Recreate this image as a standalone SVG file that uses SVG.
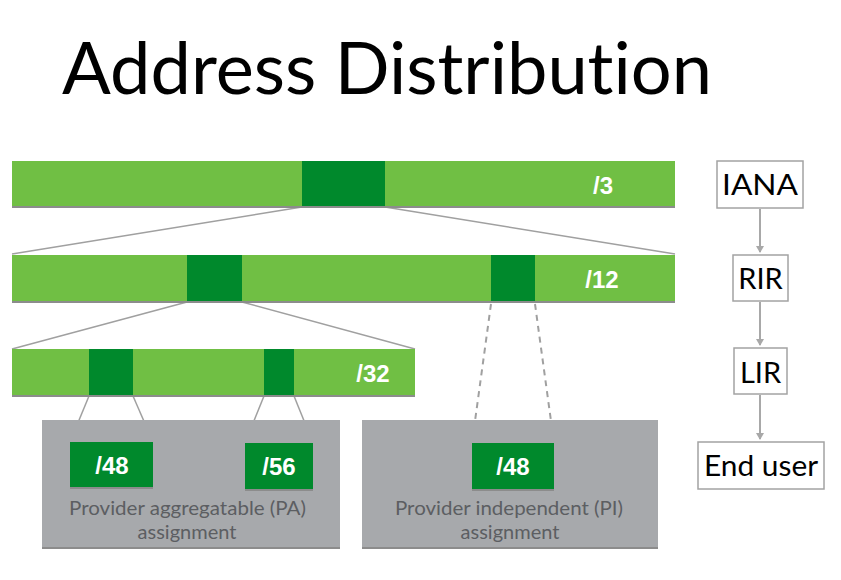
<svg xmlns="http://www.w3.org/2000/svg" width="841" height="580" viewBox="0 0 841 580">
<defs>
<style>
text{font-variant-ligatures:none}
.title{font-family:Lato,"Open Sans","DejaVu Sans",sans-serif;font-size:71px;fill:#000}
.bar{fill:#70bf44}
.blk{fill:#00892c}
.shadow{stroke:#8c8c8c;stroke-width:2}
.lbl{font-family:"Liberation Sans",Arial,sans-serif;font-weight:bold;font-size:24px;fill:#fff;text-anchor:middle}
.gbox{fill:#a7a9ac}
.gtxt{font-family:Lato,"Open Sans","DejaVu Sans",sans-serif;font-size:20px;fill:#5c5e62;text-anchor:middle}
.conn{stroke:#a0a0a0;stroke-width:1.5;fill:none}
.dash{stroke:#a0a0a0;stroke-width:2;fill:none;stroke-dasharray:6,5}
.rbox{fill:#fff;stroke:#a3a3a3;stroke-width:1.5}
.rtxt{font-family:Lato,"Open Sans","DejaVu Sans",sans-serif;font-size:29px;fill:#000;text-anchor:middle}
.arr{stroke:#a8a8a8;stroke-width:2;fill:none}
</style>
<marker id="ah" markerWidth="8" markerHeight="8" refX="6" refY="4" orient="auto" markerUnits="userSpaceOnUse">
<path d="M0,0 L7,4 L0,8 Z" fill="#a8a8a8"/>
</marker>
</defs>
<rect width="841" height="580" fill="#fff"/>
<text class="title" x="62" y="94" textLength="650" lengthAdjust="spacingAndGlyphs">Address Distribution</text>

<g id="connectors">
<line class="conn" x1="302" y1="207" x2="12" y2="254"/>
<line class="conn" x1="385" y1="207" x2="675" y2="254"/>
<line class="conn" x1="187" y1="302" x2="12" y2="349"/>
<line class="conn" x1="242" y1="302" x2="415" y2="349"/>
<line class="conn" x1="89" y1="396" x2="70" y2="442"/>
<line class="conn" x1="133" y1="396" x2="153" y2="442"/>
<line class="conn" x1="264" y1="396" x2="245" y2="443"/>
<line class="conn" x1="294" y1="396" x2="313" y2="443"/>
<line class="dash" x1="491" y1="304" x2="472" y2="443"/>
<line class="dash" x1="535" y1="304" x2="554" y2="443"/>
<line class="arr" x1="760" y1="209" x2="760" y2="252" marker-end="url(#ah)"/>
<line class="arr" x1="760" y1="302" x2="760" y2="345" marker-end="url(#ah)"/>
<line class="arr" x1="760" y1="395" x2="760" y2="439" marker-end="url(#ah)"/>
</g>

<g id="bar-3">
<rect class="bar" x="12" y="161" width="663" height="46"/>
<rect class="blk" x="302" y="161" width="83" height="46"/>
<line class="shadow" x1="12" y1="207" x2="675" y2="207"/>
<text class="lbl" x="603" y="194">/3</text>
</g>

<g id="bar-12">
<rect class="bar" x="12" y="255" width="663" height="47"/>
<rect class="blk" x="187" y="255" width="55" height="47"/>
<rect class="blk" x="491" y="255" width="44" height="47"/>
<line class="shadow" x1="12" y1="302" x2="675" y2="302"/>
<text class="lbl" x="602" y="288">/12</text>
</g>

<g id="bar-32">
<rect class="bar" x="12" y="349" width="403" height="47"/>
<rect class="blk" x="89" y="349" width="44" height="47"/>
<rect class="blk" x="264" y="349" width="30" height="47"/>
<line class="shadow" x1="12" y1="396" x2="415" y2="396"/>
<text class="lbl" x="373" y="382">/32</text>
</g>

<g id="pa-assignment">
<rect class="gbox" x="42" y="420" width="298" height="128"/>
<line class="shadow" x1="42" y1="548" x2="340" y2="548"/>
<text class="gtxt" x="187.5" y="515" textLength="237" lengthAdjust="spacingAndGlyphs">Provider aggregatable (PA)</text>
<text class="gtxt" x="187" y="539">assignment</text>
</g>

<g id="pi-assignment">
<rect class="gbox" x="362" y="420" width="296" height="128"/>
<line class="shadow" x1="362" y1="548" x2="658" y2="548"/>
<text class="gtxt" x="509" y="515" textLength="228" lengthAdjust="spacingAndGlyphs">Provider independent (PI)</text>
<text class="gtxt" x="510" y="539">assignment</text>
</g>

<g id="pa-48">
<rect class="blk" x="70" y="442" width="83" height="46"/>
<line class="shadow" x1="70" y1="488" x2="153" y2="488"/>
<text class="lbl" x="112" y="474">/48</text>
</g>

<g id="pa-56">
<rect class="blk" x="245" y="443" width="68" height="47"/>
<line class="shadow" x1="245" y1="490" x2="313" y2="490"/>
<text class="lbl" x="279" y="475">/56</text>
</g>

<g id="pi-48">
<rect class="blk" x="472" y="443" width="82" height="47"/>
<line class="shadow" x1="472" y1="490" x2="554" y2="490"/>
<text class="lbl" x="513" y="475">/48</text>
</g>

<g id="iana">
<rect class="rbox" x="717" y="161" width="86" height="47"/>
<text class="rtxt" x="760" y="195" textLength="76" lengthAdjust="spacingAndGlyphs">IANA</text>
</g>
<g id="rir">
<rect class="rbox" x="733" y="255" width="55" height="46"/>
<text class="rtxt" x="760.5" y="289">RIR</text>
</g>
<g id="lir">
<rect class="rbox" x="734" y="348" width="53" height="46"/>
<text class="rtxt" x="760.5" y="383">LIR</text>
</g>
<g id="end-user">
<rect class="rbox" x="698" y="442" width="126" height="47"/>
<text class="rtxt" x="761" y="476" textLength="114" lengthAdjust="spacingAndGlyphs">End user</text>
</g>
</svg>
